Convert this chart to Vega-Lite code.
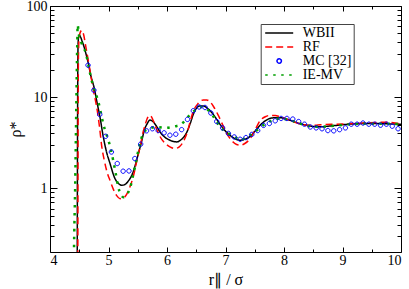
{
"$schema": "https://vega.github.io/schema/vega-lite/v6.json",
"width": 351, "height": 246,
"autosize": {"type": "none"},
"padding": {"left": 50, "top": 6, "right": 8, "bottom": 37},
"background": "white",
"config": {
  "font": "Liberation Serif",
  "view": {"stroke": "black", "strokeWidth": 1},
  "axis": {"labelFont": "Liberation Serif", "labelFontSize": 14, "labelColor": "black", "titleFont": "Liberation Serif", "titleFontSize": 16, "titleFontWeight": "normal", "titleColor": "black", "tickColor": "black", "tickWidth": 1, "domain": false, "grid": false},
  "legend": {"orient": "none", "legendX": 210.7, "legendY": 18, "strokeColor": "#444444", "fillColor": "white", "padding": 2, "labelFont": "Liberation Serif", "labelFontSize": 14, "labelColor": "black", "symbolSize": 784, "clipHeight": 14, "symbolStrokeWidth": 1.5, "symbolOffset": 1.5, "labelOffset": 8.5, "rowPadding": 0}
},
"datasets": {
 "curves": [
{"s":"WBII","r":4.465,"v":0.1},{"s":"WBII","r":4.47,"v":3},{"s":"WBII","r":4.475,"v":20},{"s":"WBII","r":4.48,"v":38},{"s":"WBII","r":4.49,"v":46},{"s":"WBII","r":4.5,"v":48},{"s":"WBII","r":4.52,"v":46},{"s":"WBII","r":4.55,"v":41},{"s":"WBII","r":4.58,"v":36},{"s":"WBII","r":4.62,"v":29},{"s":"WBII","r":4.655,"v":23.5},{"s":"WBII","r":4.7,"v":17},{"s":"WBII","r":4.757,"v":12.5},{"s":"WBII","r":4.8,"v":9},{"s":"WBII","r":4.855,"v":6.0},{"s":"WBII","r":4.91,"v":3.7},{"s":"WBII","r":4.96,"v":2.6},{"s":"WBII","r":5.026,"v":1.87},{"s":"WBII","r":5.11,"v":1.28},{"s":"WBII","r":5.17,"v":1.13},{"s":"WBII","r":5.226,"v":1.08},{"s":"WBII","r":5.28,"v":1.1},{"s":"WBII","r":5.338,"v":1.2},{"s":"WBII","r":5.4,"v":1.4},{"s":"WBII","r":5.453,"v":1.75},{"s":"WBII","r":5.51,"v":2.4},{"s":"WBII","r":5.568,"v":3.3},{"s":"WBII","r":5.62,"v":4.5},{"s":"WBII","r":5.653,"v":5.0},{"s":"WBII","r":5.71,"v":5.6},{"s":"WBII","r":5.76,"v":5.4},{"s":"WBII","r":5.82,"v":4.8},{"s":"WBII","r":5.88,"v":4.16},{"s":"WBII","r":5.96,"v":3.65},{"s":"WBII","r":6.05,"v":3.37},{"s":"WBII","r":6.166,"v":3.23},{"s":"WBII","r":6.25,"v":3.45},{"s":"WBII","r":6.337,"v":4.1},{"s":"WBII","r":6.4,"v":5.2},{"s":"WBII","r":6.45,"v":6.5},{"s":"WBII","r":6.5,"v":7.5},{"s":"WBII","r":6.564,"v":8.0},{"s":"WBII","r":6.62,"v":8.0},{"s":"WBII","r":6.706,"v":7.4},{"s":"WBII","r":6.78,"v":6.6},{"s":"WBII","r":6.85,"v":5.7},{"s":"WBII","r":6.92,"v":4.9},{"s":"WBII","r":6.99,"v":4.3},{"s":"WBII","r":7.08,"v":3.8},{"s":"WBII","r":7.16,"v":3.5},{"s":"WBII","r":7.25,"v":3.37},{"s":"WBII","r":7.33,"v":3.45},{"s":"WBII","r":7.42,"v":3.7},{"s":"WBII","r":7.5,"v":4.2},{"s":"WBII","r":7.59,"v":4.9},{"s":"WBII","r":7.68,"v":5.5},{"s":"WBII","r":7.76,"v":5.84},{"s":"WBII","r":7.85,"v":5.95},{"s":"WBII","r":7.93,"v":5.96},{"s":"WBII","r":8.02,"v":5.8},{"s":"WBII","r":8.1,"v":5.58},{"s":"WBII","r":8.18,"v":5.35},{"s":"WBII","r":8.27,"v":5.14},{"s":"WBII","r":8.36,"v":4.95},{"s":"WBII","r":8.44,"v":4.82},{"s":"WBII","r":8.53,"v":4.75},{"s":"WBII","r":8.62,"v":4.72},{"s":"WBII","r":8.75,"v":4.8},{"s":"WBII","r":8.9,"v":4.9},{"s":"WBII","r":9.1,"v":5.05},{"s":"WBII","r":9.3,"v":5.12},{"s":"WBII","r":9.5,"v":5.14},{"s":"WBII","r":9.7,"v":5.12},{"s":"WBII","r":9.85,"v":5.08},{"s":"WBII","r":10,"v":5.05},
{"s":"RF","r":4.475,"v":0.1},{"s":"RF","r":4.48,"v":5},{"s":"RF","r":4.487,"v":30},{"s":"RF","r":4.5,"v":46},{"s":"RF","r":4.52,"v":52},{"s":"RF","r":4.545,"v":54},{"s":"RF","r":4.57,"v":50},{"s":"RF","r":4.615,"v":35},{"s":"RF","r":4.66,"v":24},{"s":"RF","r":4.7,"v":17},{"s":"RF","r":4.74,"v":12},{"s":"RF","r":4.78,"v":9},{"s":"RF","r":4.81,"v":7},{"s":"RF","r":4.85,"v":4.5},{"s":"RF","r":4.884,"v":2.9},{"s":"RF","r":4.93,"v":2.0},{"s":"RF","r":4.97,"v":1.55},{"s":"RF","r":5.03,"v":1.2},{"s":"RF","r":5.082,"v":0.98},{"s":"RF","r":5.14,"v":0.83},{"s":"RF","r":5.197,"v":0.77},{"s":"RF","r":5.25,"v":0.78},{"s":"RF","r":5.31,"v":0.86},{"s":"RF","r":5.37,"v":1.05},{"s":"RF","r":5.424,"v":1.35},{"s":"RF","r":5.48,"v":1.95},{"s":"RF","r":5.54,"v":2.85},{"s":"RF","r":5.59,"v":4.1},{"s":"RF","r":5.624,"v":4.92},{"s":"RF","r":5.66,"v":5.8},{"s":"RF","r":5.7,"v":6.3},{"s":"RF","r":5.74,"v":6.0},{"s":"RF","r":5.79,"v":5.0},{"s":"RF","r":5.84,"v":4.2},{"s":"RF","r":5.88,"v":3.7},{"s":"RF","r":5.96,"v":3.15},{"s":"RF","r":6.05,"v":2.85},{"s":"RF","r":6.137,"v":2.73},{"s":"RF","r":6.21,"v":2.85},{"s":"RF","r":6.28,"v":3.25},{"s":"RF","r":6.35,"v":4.2},{"s":"RF","r":6.4,"v":5.5},{"s":"RF","r":6.45,"v":7.0},{"s":"RF","r":6.53,"v":8.5},{"s":"RF","r":6.62,"v":9.3},{"s":"RF","r":6.68,"v":9.3},{"s":"RF","r":6.735,"v":8.9},{"s":"RF","r":6.8,"v":7.8},{"s":"RF","r":6.877,"v":6.3},{"s":"RF","r":6.95,"v":5.0},{"s":"RF","r":7.02,"v":4.0},{"s":"RF","r":7.08,"v":3.5},{"s":"RF","r":7.133,"v":3.2},{"s":"RF","r":7.19,"v":3.02},{"s":"RF","r":7.25,"v":2.97},{"s":"RF","r":7.33,"v":3.1},{"s":"RF","r":7.42,"v":3.5},{"s":"RF","r":7.5,"v":4.3},{"s":"RF","r":7.59,"v":5.5},{"s":"RF","r":7.68,"v":6.1},{"s":"RF","r":7.76,"v":6.3},{"s":"RF","r":7.85,"v":6.3},{"s":"RF","r":7.93,"v":6.1},{"s":"RF","r":8.02,"v":5.85},{"s":"RF","r":8.1,"v":5.58},{"s":"RF","r":8.2,"v":5.25},{"s":"RF","r":8.32,"v":5.0},{"s":"RF","r":8.45,"v":4.92},{"s":"RF","r":8.55,"v":4.93},{"s":"RF","r":8.67,"v":5.0},{"s":"RF","r":8.9,"v":5.05},{"s":"RF","r":9.18,"v":5.14},{"s":"RF","r":9.45,"v":5.25},{"s":"RF","r":9.76,"v":5.3},{"s":"RF","r":9.9,"v":5.2},{"s":"RF","r":10,"v":5.1},
{"s":"IE-MV","r":4.405,"v":0.1},{"s":"IE-MV","r":4.41,"v":0.2},{"s":"IE-MV","r":4.43,"v":1},{"s":"IE-MV","r":4.45,"v":8},{"s":"IE-MV","r":4.465,"v":35},{"s":"IE-MV","r":4.473,"v":62},{"s":"IE-MV","r":4.49,"v":50},{"s":"IE-MV","r":4.54,"v":39},{"s":"IE-MV","r":4.615,"v":30},{"s":"IE-MV","r":4.684,"v":18.3},{"s":"IE-MV","r":4.74,"v":13},{"s":"IE-MV","r":4.826,"v":8.9},{"s":"IE-MV","r":4.884,"v":6.1},{"s":"IE-MV","r":4.91,"v":5.1},{"s":"IE-MV","r":4.96,"v":4.0},{"s":"IE-MV","r":5.014,"v":3.1},{"s":"IE-MV","r":5.08,"v":2.03},{"s":"IE-MV","r":5.12,"v":1.5},{"s":"IE-MV","r":5.167,"v":1.03},{"s":"IE-MV","r":5.21,"v":0.86},{"s":"IE-MV","r":5.253,"v":0.8},{"s":"IE-MV","r":5.31,"v":0.85},{"s":"IE-MV","r":5.368,"v":1.0},{"s":"IE-MV","r":5.41,"v":1.3},{"s":"IE-MV","r":5.453,"v":1.71},{"s":"IE-MV","r":5.51,"v":2.6},{"s":"IE-MV","r":5.56,"v":3.5},{"s":"IE-MV","r":5.6,"v":4.1},{"s":"IE-MV","r":5.65,"v":4.4},{"s":"IE-MV","r":5.73,"v":4.6},{"s":"IE-MV","r":5.824,"v":4.7},{"s":"IE-MV","r":5.9,"v":4.65},{"s":"IE-MV","r":5.97,"v":4.6},{"s":"IE-MV","r":6.08,"v":4.7},{"s":"IE-MV","r":6.15,"v":4.8},{"s":"IE-MV","r":6.22,"v":4.95},{"s":"IE-MV","r":6.28,"v":5.3},{"s":"IE-MV","r":6.337,"v":5.84},{"s":"IE-MV","r":6.41,"v":6.6},{"s":"IE-MV","r":6.48,"v":7.2},{"s":"IE-MV","r":6.593,"v":7.8},{"s":"IE-MV","r":6.66,"v":7.5},{"s":"IE-MV","r":6.735,"v":6.9},{"s":"IE-MV","r":6.82,"v":5.8},{"s":"IE-MV","r":6.906,"v":4.7},{"s":"IE-MV","r":6.98,"v":4.3},{"s":"IE-MV","r":7.05,"v":4.0},{"s":"IE-MV","r":7.16,"v":3.66},{"s":"IE-MV","r":7.25,"v":3.4},{"s":"IE-MV","r":7.38,"v":3.7},{"s":"IE-MV","r":7.53,"v":4.3},{"s":"IE-MV","r":7.64,"v":4.9},{"s":"IE-MV","r":7.78,"v":5.5},{"s":"IE-MV","r":7.93,"v":5.84},{"s":"IE-MV","r":8.1,"v":5.58},{"s":"IE-MV","r":8.27,"v":5.15},{"s":"IE-MV","r":8.44,"v":4.8},{"s":"IE-MV","r":8.62,"v":4.72},{"s":"IE-MV","r":8.9,"v":4.9},{"s":"IE-MV","r":9.3,"v":5.1},{"s":"IE-MV","r":9.64,"v":5.12},{"s":"IE-MV","r":10,"v":5.05},
{"s":"MC [32]","r":4.65,"v":22.4},{"s":"MC [32]","r":4.75,"v":11.9},{"s":"MC [32]","r":4.85,"v":6.45},{"s":"MC [32]","r":4.95,"v":3.72},{"s":"MC [32]","r":5.05,"v":2.5},{"s":"MC [32]","r":5.15,"v":1.87},{"s":"MC [32]","r":5.25,"v":1.54},{"s":"MC [32]","r":5.35,"v":1.55},{"s":"MC [32]","r":5.45,"v":2.12},{"s":"MC [32]","r":5.55,"v":3.05},{"s":"MC [32]","r":5.65,"v":4.27},{"s":"MC [32]","r":5.75,"v":4.5},{"s":"MC [32]","r":5.85,"v":4.3},{"s":"MC [32]","r":5.95,"v":4.06},{"s":"MC [32]","r":6.05,"v":3.82},{"s":"MC [32]","r":6.15,"v":3.92},{"s":"MC [32]","r":6.25,"v":4.4},{"s":"MC [32]","r":6.35,"v":5.7},{"s":"MC [32]","r":6.45,"v":7.1},{"s":"MC [32]","r":6.55,"v":7.8},{"s":"MC [32]","r":6.65,"v":7.7},{"s":"MC [32]","r":6.75,"v":6.7},{"s":"MC [32]","r":6.85,"v":5.4},{"s":"MC [32]","r":6.95,"v":4.6},{"s":"MC [32]","r":7.05,"v":4.0},{"s":"MC [32]","r":7.15,"v":3.66},{"s":"MC [32]","r":7.25,"v":3.45},{"s":"MC [32]","r":7.35,"v":3.6},{"s":"MC [32]","r":7.45,"v":3.9},{"s":"MC [32]","r":7.55,"v":4.3},{"s":"MC [32]","r":7.65,"v":4.9},{"s":"MC [32]","r":7.75,"v":5.14},{"s":"MC [32]","r":7.85,"v":5.5},{"s":"MC [32]","r":7.95,"v":5.84},{"s":"MC [32]","r":8.05,"v":5.84},{"s":"MC [32]","r":8.15,"v":5.75},{"s":"MC [32]","r":8.25,"v":5.4},{"s":"MC [32]","r":8.35,"v":5.05},{"s":"MC [32]","r":8.45,"v":4.7},{"s":"MC [32]","r":8.55,"v":4.6},{"s":"MC [32]","r":8.65,"v":4.5},{"s":"MC [32]","r":8.75,"v":4.3},{"s":"MC [32]","r":8.85,"v":4.27},{"s":"MC [32]","r":8.95,"v":4.4},{"s":"MC [32]","r":9.05,"v":4.6},{"s":"MC [32]","r":9.15,"v":5.05},{"s":"MC [32]","r":9.25,"v":5.05},{"s":"MC [32]","r":9.35,"v":5.2},{"s":"MC [32]","r":9.45,"v":5.05},{"s":"MC [32]","r":9.55,"v":5.05},{"s":"MC [32]","r":9.65,"v":4.92},{"s":"MC [32]","r":9.75,"v":5.05},{"s":"MC [32]","r":9.85,"v":4.8},{"s":"MC [32]","r":9.95,"v":4.5}
 ]
},
"data": {"name": "curves"},
"layer": [
 {
  "transform": [{"filter": "datum.s === 'WBII' || datum.s === 'RF'"}],
  "mark": {"type": "line", "strokeWidth": 1.5, "interpolate": "monotone", "clip": true},
  "encoding": {
   "x": {"field": "r", "type": "quantitative", "scale": {"domain": [4, 10], "nice": false, "zero": false},
         "axis": {"orient": "bottom", "values": [4,5,6,7,8,9,10], "tickSize": -5, "labelPadding": 6, "labelFont": "Liberation Serif", "titleFont": "Liberation Serif", "title": "r∥ / σ", "titlePadding": 4}},
   "y": {"field": "v", "type": "quantitative", "scale": {"type": "log", "domain": [0.2, 100], "nice": false},
         "axis": {"orient": "left", "values": [1,10,100], "format": "d", "tickSize": -7, "labelPadding": 10, "labelFont": "Liberation Serif", "titleFont": "Liberation Serif", "title": "ρ*", "titlePadding": 3}},
   "color": {"field": "s", "type": "nominal", "scale": {"domain": ["WBII","RF","MC [32]","IE-MV"], "range": ["#000000","#ff0000","#0000ff","#00a000"]}, "legend": {"title": null}},
   "strokeDash": {"field": "s", "type": "nominal", "scale": {"domain": ["WBII","RF","MC [32]","IE-MV"], "range": [[1,0],[7,4],[1,0],[2.5,5.5]]}, "legend": {"title": null}}
  }
 },
 {
  "transform": [{"filter": "datum.s === 'IE-MV'"}],
  "mark": {"type": "line", "strokeWidth": 2.5, "strokeCap": "butt", "interpolate": "monotone", "clip": true},
  "encoding": {
   "x": {"field": "r", "type": "quantitative", "axis": {"orient": "top", "values": [4,5,6,7,8,9,10], "tickSize": -5, "labels": false, "title": null}},
   "y": {"field": "v", "type": "quantitative", "axis": {"orient": "right", "values": [1,10,100], "tickSize": -7, "labels": false, "title": null}},
   "color": {"field": "s", "type": "nominal", "legend": {"title": null}},
   "strokeDash": {"field": "s", "type": "nominal", "legend": {"title": null}}
  }
 },
 {
  "transform": [{"filter": "datum.s === 'MC [32]'"}],
  "mark": {"type": "point", "filled": false, "size": 784, "strokeWidth": 1, "opacity": 1, "clip": true},
  "encoding": {
   "x": {"field": "r", "type": "quantitative", "axis": {"orient": "bottom", "values": [4.5,5.5,6.5,7.5,8.5,9.5], "tickSize": -3, "labels": false, "title": null}},
   "y": {"field": "v", "type": "quantitative", "axis": {"orient": "left", "values": [0.3,0.4,0.5,0.6,0.7,0.8,0.9,2,3,4,5,6,7,8,9,20,30,40,50,60,70,80,90], "tickSize": -4, "labels": false, "title": null}},
   "color": {"field": "s", "type": "nominal", "legend": {"title": null}},
   "shape": {"field": "s", "type": "nominal", "scale": {"domain": ["WBII","RF","MC [32]","IE-MV"], "range": ["stroke", "stroke", "M -0.157 0 A 0.157 0.157 0 1 0 0.157 0 A 0.157 0.157 0 1 0 -0.157 0 Z", "stroke"]}, "legend": {"title": null}}
  }
 },
 {
  "transform": [{"filter": "false"}],
  "mark": {"type": "point", "clip": true},
  "encoding": {
   "x": {"field": "r", "type": "quantitative", "axis": {"orient": "top", "values": [4.5,5.5,6.5,7.5,8.5,9.5], "tickSize": -3, "labels": false, "title": null}},
   "y": {"field": "v", "type": "quantitative", "axis": {"orient": "right", "values": [0.3,0.4,0.5,0.6,0.7,0.8,0.9,2,3,4,5,6,7,8,9,20,30,40,50,60,70,80,90], "tickSize": -4, "labels": false, "title": null}}
  }
 }
],
"resolve": {"axis": {"x": "independent", "y": "independent"}}
}
